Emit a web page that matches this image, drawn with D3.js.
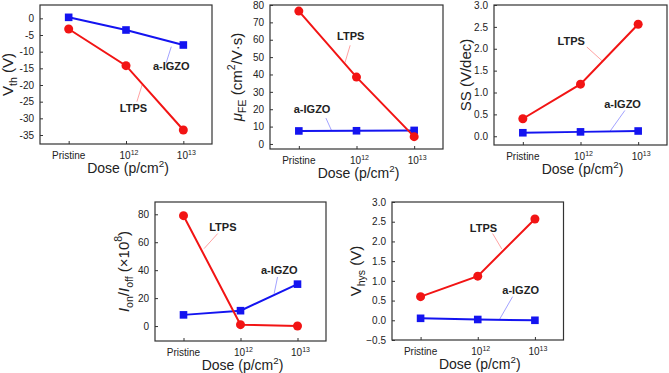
<!DOCTYPE html>
<html>
<head>
<meta charset="utf-8">
<script src="https://cdn.jsdelivr.net/npm/d3@7"></script>
<style>
  body { margin: 0; background: #fff; }
  svg text { font-family: "Liberation Sans", Arial, sans-serif; fill: #222; }
</style>
</head>
<body>
<div id="chart"></div>
<script>
// dose categories (x axis)
const doseBase = ["Pristine", "10", "10"];
const doseExp = ["", "12", "13"];

// threshold voltage
const vthIGZO = [0.3, -3.5, -8];
const vthLTPS = [-3.2, -14.2, -33.5];
const vthTicks = [0, -5, -10, -15, -20, -25, -30, -35];

// field-effect mobility
const muIGZO = [7.5, 7.6, 7.8];
const muLTPS = [76.5, 38.5, 4.2];
const muTicks = [0, 10, 20, 30, 40, 50, 60, 70, 80];

// subthreshold swing
const ssIGZO = [0.08, 0.1, 0.12];
const ssLTPS = [0.4, 1.19, 2.56];
const ssTicks = [0, 0.5, 1.0, 1.5, 2.0, 2.5, 3.0];

// on/off ratio
const onoffIGZO = [8, 11, 30];
const onoffLTPS = [79, 1, 0];
const onoffTicks = [0, 20, 40, 60, 80];

// hysteresis
const vhysIGZO = [0.05, 0.02, 0.0];
const vhysLTPS = [0.6, 1.12, 2.57];
const vhysTicks = [-0.5, 0, 0.5, 1.0, 1.5, 2.0, 2.5, 3.0];

const RED = "#f21414";
const BLUE = "#1414f0";

const width = 669, height = 373;

const svg = d3.select("#chart").append("svg")
    .attr("width", width)
    .attr("height", height);

// append text made of parts: {t, sub, sup, it}
function richText(el, parts, size) {
    let shift = 0;
    parts.forEach(p => {
        let target = 0;
        if (p.sub) target = size * 0.3;
        if (p.sup) target = -size * 0.4;
        const ts = el.append("tspan")
            .attr("dy", target - shift)
            .style("font-size", (p.sub || p.sup ? size * 0.7 : size) + "px")
            .text(p.t);
        if (p.it) ts.style("font-style", "italic");
        shift = target;
    });
}

const panels = [
    {
        left: 40, top: 5, w: 172, h: 139, yDomain: [-37.7, 4], ticks: vthTicks,
        fmt: d => String(d), ylabX: 9,
        ylab: [{ t: "V" }, { t: "th", sub: true }, { t: " (V)" }],
        igzo: vthIGZO, ltps: vthLTPS,
        notes: [
            { text: "a-IGZO", c: "#8a8aff", x: 1.79, y: -14.3, l: [1.70, -13.4, 1.79, -8.5] },
            { text: "LTPS", c: "#ff8a8a", x: 1.13, y: -26.9, l: [1.19, -25, 1.28, -20] }
        ]
    },
    {
        left: 270, top: 5, w: 173, h: 144, yDomain: [-2.9, 80], ticks: muTicks,
        fmt: d => String(d), ylabX: 238,
        ylab: [{ t: "μ", it: true }, { t: "FE", sub: true }, { t: " (cm" }, { t: "2", sup: true }, { t: "/V·s)" }],
        igzo: muIGZO, ltps: muLTPS,
        notes: [
            { text: "LTPS", c: "#ff8a8a", x: 0.90, y: 62.2, l: [0.89, 56.8, 0.80, 46.8] },
            { text: "a-IGZO", c: "#8a8aff", x: 0.23, y: 20.3, l: [0.47, 14.9, 0.57, 7.5] }
        ]
    },
    {
        left: 494, top: 5, w: 173, h: 140, yDomain: [-0.2, 3.0], ticks: ssTicks,
        fmt: d3.format(".1f"), ylabX: 467,
        ylab: [{ t: "SS (V/dec)" }],
        igzo: ssIGZO, ltps: ssLTPS,
        notes: [
            { text: "LTPS", c: "#ff8a8a", x: 0.84, y: 2.17, l: [1.11, 2.04, 1.37, 1.73] },
            { text: "a-IGZO", c: "#8a8aff", x: 1.73, y: 0.73, l: [1.77, 0.59, 1.51, 0.11] }
        ]
    },
    {
        left: 155, top: 202, w: 171, h: 139, yDomain: [-10.7, 88.8], ticks: onoffTicks,
        fmt: d => String(d), ylabX: 125,
        ylab: [{ t: "I", it: true }, { t: "on", sub: true }, { t: "/" }, { t: "I", it: true }, { t: "off", sub: true },
               { t: " (×10" }, { t: "8", sup: true }, { t: ")" }],
        igzo: onoffIGZO, ltps: onoffLTPS,
        notes: [
            { text: "LTPS", c: "#ff8a8a", x: 0.69, y: 70.9, l: [0.60, 66.2, 0.36, 55.4] },
            { text: "a-IGZO", c: "#8a8aff", x: 1.68, y: 40.4, l: [1.65, 35.1, 1.59, 23.2] }
        ]
    },
    {
        left: 392, top: 202, w: 171.5, h: 138, yDomain: [-0.5, 3.0], ticks: vhysTicks,
        fmt: d3.format(".1f"), ylabX: 357,
        ylab: [{ t: "V" }, { t: "hys", sub: true }, { t: " (V)" }],
        igzo: vhysIGZO, ltps: vhysLTPS,
        notes: [
            { text: "LTPS", c: "#ff8a8a", x: 1.10, y: 2.35, l: [1.26, 2.2, 1.42, 1.81] },
            { text: "a-IGZO", c: "#8a8aff", x: 1.75, y: 0.78, l: [1.61, 0.6, 1.38, 0.02] }
        ]
    }
];

panels.forEach(p => {
    const x = d3.scaleLinear().domain([-0.5, 2.5]).range([p.left, p.left + p.w]);
    const y = d3.scaleLinear().domain(p.yDomain).range([p.top + p.h, p.top]);
    const g = svg.append("g");

    // y axis (ticks pointing inward)
    g.append("g")
        .attr("transform", `translate(${p.left},0)`)
        .call(d3.axisLeft(y).tickValues(p.ticks).tickSize(-3).tickPadding(6).tickFormat(p.fmt))
        .call(a => a.select(".domain").remove())
        .call(a => a.selectAll("line").attr("stroke", "#333"))
        .call(a => a.selectAll("text").style("font-size", "10px").attr("fill", "#222"));

    // x axis
    g.append("g")
        .attr("transform", `translate(0,${p.top + p.h})`)
        .call(d3.axisBottom(x).tickValues([0, 1, 2]).tickSize(-3).tickFormat(""))
        .call(a => a.select(".domain").remove())
        .call(a => a.selectAll("line").attr("stroke", "#333"));
    doseBase.forEach((b, i) => {
        const t = g.append("text")
            .attr("x", x(i) + (doseExp[i] ? 3 : 0))
            .attr("y", p.top + p.h + 15)
            .attr("text-anchor", "middle")
            .style("font-size", "10px");
        richText(t, doseExp[i] ? [{ t: b }, { t: doseExp[i], sup: true }] : [{ t: b }], 10);
    });

    // frame
    g.append("rect")
        .attr("x", p.left).attr("y", p.top)
        .attr("width", p.w).attr("height", p.h)
        .attr("fill", "none").attr("stroke", "#333").attr("stroke-width", 1.2);

    // axis titles
    const xt = g.append("text")
        .attr("x", p.left + p.w / 2 + 2)
        .attr("y", p.top + p.h + 29)
        .attr("text-anchor", "middle")
        .style("font-size", "14px");
    richText(xt, [{ t: "Dose (p/cm" }, { t: "2", sup: true }, { t: ")" }], 14);

    const yt = g.append("text")
        .attr("transform", `translate(${p.ylabX},${p.top + p.h / 2}) rotate(-90)`)
        .attr("text-anchor", "middle")
        .attr("dominant-baseline", "middle")
        .style("font-size", "15px");
    richText(yt, p.ylab, 15);

    // leader lines and labels
    p.notes.forEach(n => {
        g.append("line")
            .attr("x1", x(n.l[0])).attr("y1", y(n.l[1]))
            .attr("x2", x(n.l[2])).attr("y2", y(n.l[3]))
            .attr("stroke", n.c).attr("stroke-width", 0.8);
        g.append("text")
            .attr("x", x(n.x)).attr("y", y(n.y) + 4)
            .attr("text-anchor", "middle")
            .style("font-size", "11px")
            .style("font-weight", "bold")
            .text(n.text);
    });

    // series
    const line = d3.line().x((d, i) => x(i)).y(d => y(d));
    [[p.igzo, BLUE, "square"], [p.ltps, RED, "circle"]].forEach(([vals, col, shape]) => {
        g.append("path")
            .attr("d", line(vals))
            .attr("fill", "none")
            .attr("stroke", col)
            .attr("stroke-width", 2);
        if (shape === "circle") {
            g.selectAll(null).data(vals).enter().append("circle")
                .attr("cx", (d, i) => x(i)).attr("cy", d => y(d))
                .attr("r", 4.5).attr("fill", col);
        } else {
            g.selectAll(null).data(vals).enter().append("rect")
                .attr("x", (d, i) => x(i) - 3.8).attr("y", d => y(d) - 3.8)
                .attr("width", 7.6).attr("height", 7.6).attr("fill", col);
        }
    });
});
</script>
</body>
</html>
